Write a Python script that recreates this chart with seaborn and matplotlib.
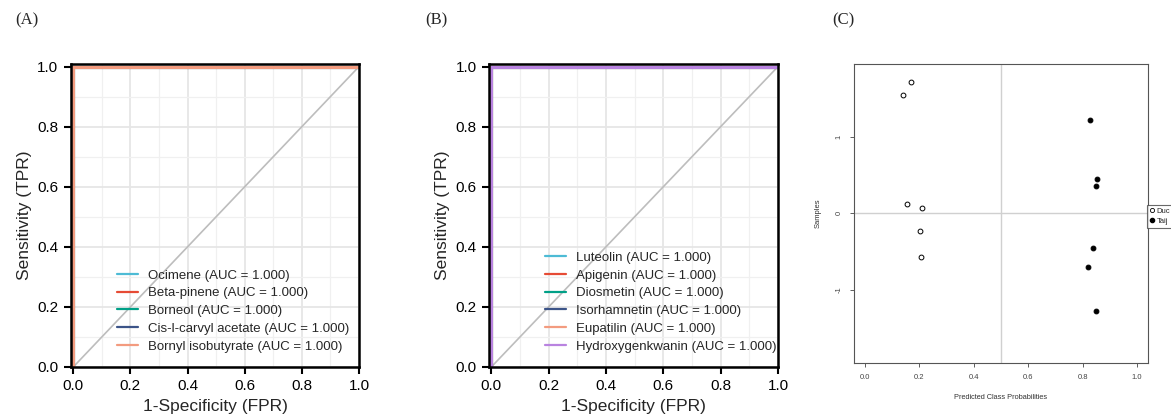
import numpy as np
import pandas as pd
import matplotlib
matplotlib.use("Agg")
import matplotlib.pyplot as plt
import seaborn as sns
from matplotlib.ticker import MultipleLocator

# ---- data -------------------------------------------------------------
# ROC points (every compound separates the two groups perfectly)
fpr = [0.0, 0.0, 1.0]
tpr = [0.0, 1.0, 1.0]

names_a = ["Ocimene", "Beta-pinene", "Borneol", "Cis-l-carvyl acetate", "Bornyl isobutyrate"]
auc_a = [1.000, 1.000, 1.000, 1.000, 1.000]
colors_a = ["#4DBBD5", "#E64B35", "#00A087", "#3C5488", "#F39B7F"]

names_b = ["Luteolin", "Apigenin", "Diosmetin", "Isorhamnetin", "Eupatilin", "Hydroxygenkwanin"]
auc_b = [1.000, 1.000, 1.000, 1.000, 1.000, 1.000]
colors_b = ["#4DBBD5", "#E64B35", "#00A087", "#3C5488", "#F39B7F", "#B983E0"]

# panel C: predicted class probabilities vs sample score
duc_prob = [0.168, 0.140, 0.154, 0.210, 0.203, 0.205]
duc_samp = [1.71, 1.55, 0.12, 0.066, -0.24, -0.57]
taij_prob = [0.826, 0.852, 0.848, 0.836, 0.819, 0.849]
taij_samp = [1.22, 0.45, 0.35, -0.46, -0.70, -1.28]
groups_c = ["Duc", "Taij"]

sns.set_style("white")
plt.rcParams["font.family"] = ["Liberation Sans", "DejaVu Sans"]

fig = plt.figure(figsize=(11.71, 4.16), dpi=100)


def roc_panel(rect, names, aucs, colors, leg_x):
    ax = fig.add_axes(rect)
    rows = []
    for n, a in zip(names, aucs):
        lab = f"{n} (AUC = {a:.3f})"
        for x, y in zip(fpr, tpr):
            rows.append((lab, x, y))
    df = pd.DataFrame(rows, columns=["model", "fpr", "tpr"])
    labels = list(dict.fromkeys(df["model"]))
    sns.lineplot(data=df, x="fpr", y="tpr", hue="model", hue_order=labels,
                 palette=colors, sort=False, estimator=None, lw=2.2,
                 ax=ax, legend=False)
    ax.plot([0, 1], [0, 1], color="#bdbdbd", lw=1.2, zorder=1)
    ax.set_xlim(-0.008, 1.0)
    ax.set_ylim(0.0, 1.008)
    ax.xaxis.set_major_locator(MultipleLocator(0.2))
    ax.yaxis.set_major_locator(MultipleLocator(0.2))
    ax.xaxis.set_minor_locator(MultipleLocator(0.1))
    ax.yaxis.set_minor_locator(MultipleLocator(0.1))
    ax.grid(which="major", color="#e6e6e6", lw=1.3)
    ax.grid(which="minor", color="#f0f0f0", lw=0.9)
    ax.set_axisbelow(True)
    for s in ax.spines.values():
        s.set_color("black")
        s.set_linewidth(1.8)
    ax.tick_params(which="major", direction="out", length=5, width=1.5,
                   labelsize=11, bottom=True, left=True, colors="black", pad=4)
    ax.tick_params(which="minor", length=0)
    ax.set_xticklabels([f"{v:.1f}" for v in ax.get_xticks()])
    ax.set_yticklabels([f"{v:.1f}" for v in ax.get_yticks()])
    ax.set_xlabel("1-Specificity (FPR)", fontsize=12.5, labelpad=4)
    ax.set_ylabel("Sensitivity (TPR)", fontsize=12.5, labelpad=4)
    handles = [plt.Line2D([], [], color=c, lw=1.6) for c in colors]
    ax.legend(handles, labels, loc="lower left", bbox_to_anchor=(leg_x, 0.03),
              frameon=False, fontsize=9.5, labelspacing=0.42,
              handlelength=1.6, handletextpad=0.75, borderaxespad=0)
    return ax


ax1 = roc_panel([0.0606, 0.1178, 0.246, 0.728], names_a, auc_a, colors_a, 0.14)
ax2 = roc_panel([0.4176, 0.1178, 0.2468, 0.728], names_b, auc_b, colors_b, 0.175)

# ---- panel C ----------------------------------------------------------
ax3 = fig.add_axes([0.7293, 0.1274, 0.2511, 0.7188])
dfc = pd.DataFrame({
    "prob": duc_prob + taij_prob,
    "samp": duc_samp + taij_samp,
    "group": [groups_c[0]] * len(duc_prob) + [groups_c[1]] * len(taij_prob),
})
ax3.axvline(0.5, color="#d0d0d0", lw=1, zorder=0)
ax3.axhline(0.0, color="#d0d0d0", lw=1, zorder=0)
sns.scatterplot(data=dfc[dfc.group == groups_c[0]], x="prob", y="samp",
                marker="o", s=12, facecolor="white", edgecolor="black",
                linewidth=0.7, ax=ax3, legend=False, zorder=3)
sns.scatterplot(data=dfc[dfc.group == groups_c[1]], x="prob", y="samp",
                marker="o", s=12, color="black", edgecolor="black",
                linewidth=0.7, ax=ax3, legend=False, zorder=3)
ax3.set_xlim(-0.04, 1.04)
ax3.set_ylim(-1.96, 1.95)
ax3.set_xticks([0.0, 0.2, 0.4, 0.6, 0.8, 1.0])
ax3.set_xticklabels(["0.0", "0.2", "0.4", "0.6", "0.8", "1.0"])
ax3.set_yticks([-1, 0, 1])
ax3.set_yticklabels(["-1", "0", "1"], rotation=90, va="center")
for s in ax3.spines.values():
    s.set_color("#555555")
    s.set_linewidth(0.8)
ax3.tick_params(direction="out", length=3, width=0.6, labelsize=5.5,
                colors="#444444", bottom=True, left=True, pad=5)
ax3.set_xlabel("Predicted Class Probabilities", fontsize=5.3, color="#333333", labelpad=9)
ax3.set_ylabel("Samples", fontsize=5.5, color="#333333", labelpad=10)
h_open = plt.Line2D([], [], marker="o", ls="", markersize=3, markerfacecolor="white",
                    markeredgecolor="black", markeredgewidth=0.6)
h_full = plt.Line2D([], [], marker="o", ls="", markersize=3, color="black")
leg = ax3.legend([h_open, h_full], groups_c, loc="center left",
                 bbox_to_anchor=(0.996, 0.49), fontsize=5.5, frameon=True,
                 fancybox=False, edgecolor="#444444", handlelength=0.6,
                 handletextpad=0.3, borderpad=0.4, labelspacing=0.35,
                 borderaxespad=0)
leg.get_frame().set_linewidth(0.8)

# panel letters
for x, lab in [(0.013, "(A)"), (0.363, "(B)"), (0.711, "(C)")]:
    fig.text(x, 0.952, lab, fontsize=12, family="Liberation Serif", va="center")

fig.savefig("out.png", dpi=100)
